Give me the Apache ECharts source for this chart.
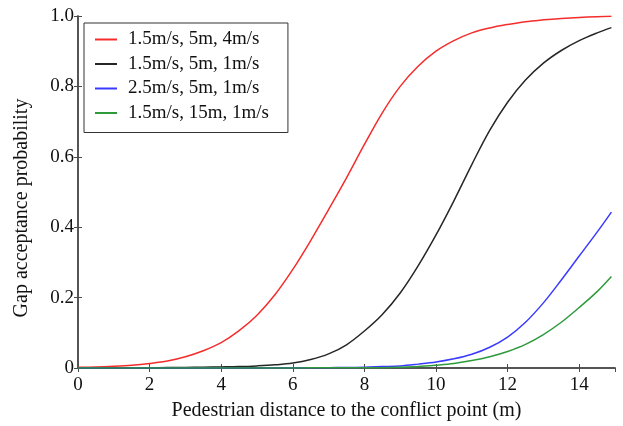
<!DOCTYPE html>
<html>
<head>
<meta charset="utf-8">
<script src="https://cdn.jsdelivr.net/npm/echarts@6/dist/echarts.min.js"></script>
<style>
html,body{margin:0;padding:0;background:#fff;}
#chart{width:623px;height:426px;}
</style>
</head>
<body>
<div id="chart"></div>
<script>
// Distances (m)
const distances = [0,0.5,1,1.5,2,2.5,3,3.5,4,4.5,5,5.5,6,6.5,7,7.5,8,8.5,9,9.5,10,10.5,11,11.5,12,12.5,13,13.5,14,14.5,14.9];
// Series names
const seriesNames = ["1.5m/s, 5m, 4m/s", "1.5m/s, 5m, 1m/s", "2.5m/s, 5m, 1m/s", "1.5m/s, 15m, 1m/s"];
// Gap acceptance probabilities
const redValues   = [0.002,0.003,0.005,0.008,0.013,0.02,0.032,0.049,0.072,0.106,0.15,0.208,0.28,0.362,0.45,0.54,0.635,0.725,0.80,0.857,0.90,0.93,0.952,0.966,0.976,0.984,0.989,0.993,0.996,0.998,0.999];
const blackValues = [0.0003,0.0004,0.0005,0.0007,0.0009,0.0012,0.0016,0.0022,0.003,0.004,0.006,0.009,0.014,0.024,0.04,0.066,0.105,0.152,0.213,0.29,0.378,0.475,0.578,0.675,0.755,0.818,0.866,0.902,0.93,0.952,0.967];
const blueValues  = [0,0,0,0,0,0,0,0,0.0001,0.0002,0.0003,0.0004,0.0005,0.0007,0.0009,0.0013,0.002,0.004,0.006,0.011,0.017,0.026,0.039,0.059,0.088,0.13,0.185,0.25,0.318,0.386,0.443];
const greenValues = [0,0,0,0,0,0,0,0,0,0,0.0001,0.0002,0.0003,0.0004,0.0005,0.0006,0.0008,0.001,0.002,0.004,0.008,0.013,0.021,0.032,0.047,0.067,0.095,0.13,0.172,0.217,0.26];
// Tick labels
const xTicks = [0,2,4,6,8,10,12,14];
const yTickLabels = {0:"0",0.2:"0.2",0.4:"0.4",0.6:"0.6",0.8:"0.8",1:"1.0"};
const xTitle = "Pedestrian distance to the conflict point (m)";
const yTitle = "Gap acceptance probability";

const colors = ['#f52c2c', '#262626', '#3a3aff', '#2e9a3c'];
const allValues = [redValues, blackValues, blueValues, greenValues];
const FONT = '"Liberation Serif", "Times New Roman", serif';
const axisColor = '#4a4a4a';

const chart = echarts.init(document.getElementById('chart'), null, {renderer: 'canvas'});

const baseX = {
  type: 'value', min: 0, max: 15, interval: 2,
  axisLine: {show: true, lineStyle: {color: axisColor, width: 1.5}},
  axisTick: {show: true, inside: true, length: 4, lineStyle: {color: axisColor}},
  splitLine: {show: false}
};
const baseY = {
  type: 'value', min: 0, max: 1, interval: 0.2,
  axisLine: {show: true, lineStyle: {color: axisColor, width: 1.5}},
  axisTick: {show: true, inside: true, length: 4, lineStyle: {color: axisColor}},
  splitLine: {show: false}
};

chart.setOption({
  animation: false,
  backgroundColor: '#fff',
  grid: {left: 78, top: 16, right: 8, bottom: 58, containLabel: false},
  legend: {
    orient: 'vertical', left: 84, top: 23,
    data: seriesNames,
    icon: 'rect', itemWidth: 22, itemHeight: 2, itemGap: 5.5,
    padding: [7, 19, 10, 11],
    borderColor: '#333', borderWidth: 1, backgroundColor: '#fff',
    textStyle: {fontFamily: FONT, fontSize: 19, color: '#111', padding: [0, 0, 0, 6]}
  },
  xAxis: [
    Object.assign({}, baseX, {
      position: 'bottom',
      axisLabel: {show: true, showMaxLabel: false, margin: 8, fontFamily: FONT, fontSize: 19, color: '#111',
        formatter: v => xTicks.includes(v) ? String(v) : ''},
      name: xTitle, nameLocation: 'middle', nameGap: 33,
      nameTextStyle: {fontFamily: FONT, fontSize: 20, color: '#111'}
    }),
    Object.assign({}, baseX, {position: 'top', axisLabel: {show: false}})
  ],
  yAxis: [
    Object.assign({}, baseY, {
      position: 'left',
      axisLabel: {show: true, margin: 4, fontFamily: FONT, fontSize: 19, color: '#111',
        formatter: v => { const k = Math.round(v * 10) / 10; return yTickLabels[k] !== undefined ? yTickLabels[k] : ''; }}
    }),
    Object.assign({}, baseY, {position: 'right', axisLabel: {show: false}})
  ],
  graphic: [{
    type: 'text', x: 22, y: 208, rotation: Math.PI / 2,
    style: {text: yTitle, fontFamily: FONT, fontSize: 20, fill: '#111', align: 'center', verticalAlign: 'middle'}
  }],
  series: seriesNames.map((name, i) => ({
    name: name, type: 'line', xAxisIndex: 0, yAxisIndex: 0,
    data: distances.map((d, j) => [d, allValues[i][j]]),
    smooth: 0.35, symbol: 'none', showSymbol: false,
    lineStyle: {color: colors[i], width: 1.5},
    itemStyle: {color: colors[i]},
    z: 2 + i
  }))
});
</script>
</body>
</html>
